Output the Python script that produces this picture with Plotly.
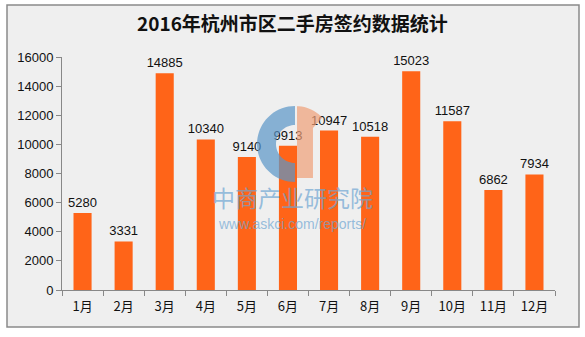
import plotly.graph_objects as go
import math

months = ["1月", "2月", "3月", "4月", "5月", "6月", "7月", "8月", "9月", "10月", "11月", "12月"]
values = [5280, 3331, 14885, 10340, 9140, 9913, 10947, 10518, 15023, 11587, 6862, 7934]
y_ticks = [0, 2000, 4000, 6000, 8000, 10000, 12000, 14000, 16000]
title_text = "2016年杭州市区二手房签约数据统计"

W, H = 585, 337
L, R, T, B = 62, 30, 57, 47
PW, PH = W - L - R, H - T - B

def px(x, y):
    return (x - L) / PW, (H - B - y) / PH

fig = go.Figure()
fig.add_trace(go.Bar(
    x=months, y=values, width=0.44,
    marker=dict(color="#ff6418", line=dict(width=0)),
    text=[str(v) for v in values], textposition="outside",
    textfont=dict(family="Liberation Sans", size=13, color="#111111"),
    constraintext="none",
    cliponaxis=False,
))

shapes = []
# outer frame
x0, y0 = px(7, 5)
x1, y1 = px(579, 327)
shapes.append(dict(type="rect", xref="paper", yref="paper", x0=x0, y0=y1, x1=x1, y1=y0,
                   fillcolor="#efefef", line=dict(color="#8a8a8a", width=1.5), layer="below"))

# watermark logo: blue ring (left half) and salmon flag
cx, cy, Ro, Ri = 295, 144, 38, 19
pts = []
for i in range(0, 37):
    a = math.radians(90 + i * 5)
    pts.append((cx + Ro * math.cos(a), cy - Ro * math.sin(a)))
for i in range(36, -1, -1):
    a = math.radians(90 + i * 5)
    pts.append((cx + Ri * math.cos(a), cy - Ri * math.sin(a)))
path = "M " + " L ".join(f"{px(a, b)[0]:.4f},{px(a, b)[1]:.4f}" for a, b in pts) + " Z"
shapes.append(dict(type="path", xref="paper", yref="paper", path=path,
                   fillcolor="rgba(90,150,200,0.7)", line=dict(width=0), layer="above"))
pts2 = [(297, cy - Ro)]
for i in range(0, 12):
    a = math.radians(88 - i * 4)
    pts2.append((cx + Ro * math.cos(a), cy - Ro * math.sin(a)))
pts2 += [(313, 128), (313, 178), (297, 178)]
path2 = "M " + " L ".join(f"{px(a, b)[0]:.4f},{px(a, b)[1]:.4f}" for a, b in pts2) + " Z"
shapes.append(dict(type="path", xref="paper", yref="paper", path=path2,
                   fillcolor="rgba(240,160,120,0.7)", line=dict(width=0), layer="above"))

annotations = []
tx, ty = px(292, 23)
annotations.append(dict(text="<b>" + title_text + "</b>", xref="paper", yref="paper", x=tx, y=ty,
                        showarrow=False, xanchor="center", yanchor="middle",
                        font=dict(family="Noto Sans CJK SC", size=19, color="#111111")))
wx, wy = px(292, 197)
annotations.append(dict(text="中商产业研究院", xref="paper", yref="paper", x=wx, y=wy, showarrow=False,
                        xanchor="center", yanchor="middle",
                        font=dict(family="Noto Sans CJK SC", size=23, color="rgba(110,165,210,0.7)")))
ux, uy = px(292, 224)
annotations.append(dict(text="www.askci.com/reports/", xref="paper", yref="paper", x=ux, y=uy, showarrow=False,
                        xanchor="center", yanchor="middle",
                        font=dict(family="Liberation Sans", size=14, color="rgba(110,165,210,0.7)")))

fig.update_layout(
    width=W, height=H,
    margin=dict(l=L, r=R, t=T, b=B, pad=0),
    paper_bgcolor="white", plot_bgcolor="rgba(0,0,0,0)",
    shapes=shapes, annotations=annotations,
    showlegend=False, bargap=0.56,
)
fig.update_yaxes(range=[0, 16000], tickvals=y_ticks, ticktext=[str(v) for v in y_ticks],
                 ticks="outside", ticklen=5,
                 tickcolor="#888888", showline=True, linecolor="#888888", linewidth=1,
                 showgrid=False, zeroline=False,
                 tickfont=dict(family="Liberation Sans", size=13, color="#111111"))
fig.update_xaxes(ticks="outside", ticklen=5, tickson="boundaries", tickcolor="#888888",
                 showline=True, linecolor="#888888", linewidth=1, showgrid=False,
                 ticklabelstandoff=4,
                 tickfont=dict(family="Noto Sans CJK SC", size=13, color="#111111"))

fig.write_html("out.html")
